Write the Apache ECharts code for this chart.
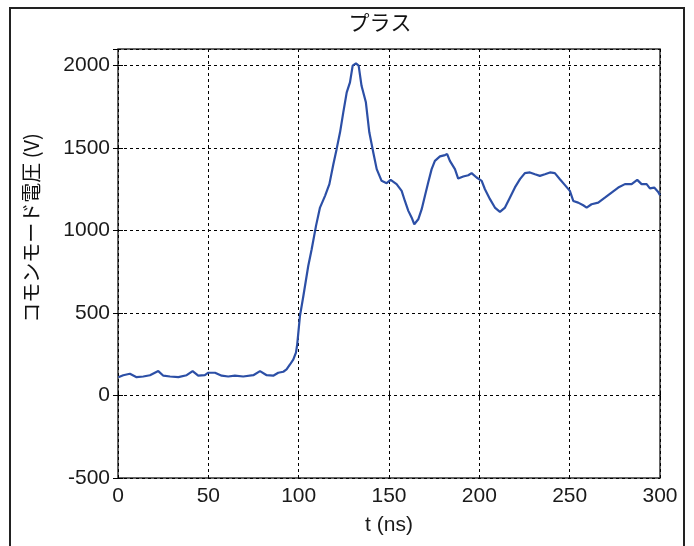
<!DOCTYPE html>
<html>
<head>
<meta charset="utf-8">
<script src="https://cdn.jsdelivr.net/npm/echarts@6/dist/echarts.min.js"></script>
<style>
  html, body { margin: 0; padding: 0; background: #fff; }
  #chart { width: 694px; height: 546px; }
</style>
</head>
<body>
<div id="chart"></div>
<script>
// Common-mode voltage waveform (time in ns, voltage in V)
const timeNs = [
  0.2, 2.9, 6.6, 10.3, 14.0, 17.7, 22.3, 25.1, 28.8, 33.4, 38.0, 41.3, 44.4, 48.1,
  50.0, 53.7, 57.4, 61.0, 64.7, 69.3, 74.9, 78.6, 82.3, 85.9, 88.7, 91.5, 93.3,
  95.2, 97.0, 98.5, 99.2, 100.7, 102.6, 105.3, 107.2, 109.6, 111.8, 114.6, 117.0,
  119.2, 121.0, 122.9, 124.7, 126.6, 128.4, 129.9, 131.7, 133.2, 134.8, 137.2,
  139.1, 141.3, 143.2, 145.9, 148.7, 150.9, 154.2, 157.0, 158.8, 160.7, 162.5,
  164.0, 166.2, 168.1, 169.9, 171.7, 173.6, 175.4, 178.2, 181.0, 182.2, 183.7,
  186.5, 188.3, 191.1, 193.9, 195.7, 198.5, 201.3, 203.1, 205.9, 208.6, 211.4,
  214.2, 216.9, 219.7, 222.5, 225.2, 228.0, 230.8, 233.5, 236.3, 239.1, 241.8,
  244.6, 247.4, 250.1, 252.0, 254.7, 257.5, 259.4, 262.1, 265.8, 269.5, 273.2,
  276.9, 280.6, 284.3, 287.4, 289.8, 292.6, 294.4, 296.8, 299.0, 300.0
];
const voltageV = [
  111, 123, 132, 111, 115, 123, 148, 120, 115, 111, 123, 148, 120, 123,
  138, 138, 120, 115, 120, 115, 123, 148, 123, 120, 138, 144, 158,
  188, 218, 260, 310, 481, 603, 785, 886, 1028, 1139, 1210, 1281,
  1402, 1493, 1595, 1716, 1837, 1898, 1999, 2013, 1999, 1877, 1777,
  1595, 1473, 1372, 1301, 1287, 1307, 1281, 1240, 1179, 1119, 1079,
  1038, 1068, 1129, 1210, 1291, 1372, 1422, 1449, 1457, 1463, 1422,
  1372, 1315, 1327, 1335, 1348, 1321, 1301, 1250, 1190, 1139, 1113,
  1139, 1199, 1261, 1311, 1348, 1352, 1341, 1331, 1341, 1352, 1348,
  1311, 1275, 1240, 1179, 1169, 1153, 1139, 1159, 1169, 1199, 1230,
  1260, 1281, 1281, 1307, 1281, 1281, 1255, 1260, 1234, 1214
];
const xTicks = [0, 50, 100, 150, 200, 250, 300];
const yTicks = [-500, 0, 500, 1000, 1500, 2000];

const titleText = 'プラス';
const xName = 't (ns)';
const yName = 'コモンモード電圧 (V)';

const chart = echarts.init(document.getElementById('chart'), null, { renderer: 'canvas' });

const points = timeNs.map((t, i) => [t, voltageV[i]]);
const labelFont = { fontFamily: 'Liberation Sans, Arial, sans-serif', fontSize: 21, color: '#1a1a1a' };
const gridDash = { color: '#000', width: 1, type: [3, 3] };

chart.setOption({
  animation: false,
  backgroundColor: '#fff',
  title: {
    text: titleText,
    left: 375, top: 7, textAlign: 'center',
    textStyle: { fontFamily: 'Noto Sans CJK JP', fontSize: 21, fontWeight: 'normal', color: '#111' }
  },
  grid: { left: 118, right: 34, top: 49, bottom: 68, show: true, borderColor: '#333', borderWidth: 1.5 },
  xAxis: [{
    type: 'value', min: xTicks[0], max: xTicks[xTicks.length - 1], interval: 50,
    name: xName, nameLocation: 'middle', nameGap: 37,
    nameTextStyle: labelFont,
    axisLine: { show: false },
    axisTick: { show: true, inside: true, length: 5, lineStyle: { color: '#000' } },
    axisLabel: Object.assign({ margin: 8 }, labelFont),
    splitLine: { show: true, lineStyle: gridDash }
  }, {
    type: 'value', position: 'top', min: 0, max: 300, interval: 50,
    axisLine: { show: false }, axisLabel: { show: false }, splitLine: { show: false },
    axisTick: { show: true, inside: true, length: 5, lineStyle: { color: '#000' } }
  }],
  yAxis: [{
    type: 'value', min: yTicks[0], max: 2100, interval: 500,
    axisLine: { show: false },
    axisTick: { show: true, inside: true, length: 5, lineStyle: { color: '#000' } },
    axisLabel: Object.assign({ margin: 8, showMaxLabel: false,
      formatter: v => (yTicks.indexOf(v) >= 0 ? String(v) : '') }, labelFont),
    splitLine: { show: true, lineStyle: gridDash }
  }, {
    type: 'value', position: 'right', min: -500, max: 2100, interval: 500,
    axisLine: { show: false }, axisLabel: { show: false }, splitLine: { show: false },
    axisTick: { show: true, inside: true, length: 5, lineStyle: { color: '#000' } }
  }],
  series: [{
    type: 'line',
    data: points,
    showSymbol: false,
    lineStyle: { color: '#2c4fa6', width: 2.2 },
    z: 5
  }],
  graphic: [{
    type: 'rect',
    shape: { x: 10, y: 8, width: 674, height: 580 },
    style: { fill: 'none', stroke: '#222', lineWidth: 2 },
    silent: true
  }, {
    type: 'text',
    x: 31, y: 228,
    rotation: Math.PI / 2,
    style: {
      text: yName,
      fontFamily: 'Noto Sans CJK JP', fontSize: 20, fill: '#111',
      align: 'center', verticalAlign: 'middle'
    },
    silent: true
  }]
});
</script>
</body>
</html>
